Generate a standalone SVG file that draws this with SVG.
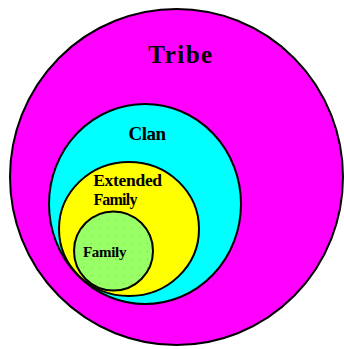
<svg xmlns="http://www.w3.org/2000/svg" width="344" height="349" viewBox="0 0 344 349">
<style>
.c{stroke:#000;stroke-width:2}
.t{font-family:"Liberation Serif","Times New Roman",serif;font-weight:bold;fill:#000;text-anchor:middle}
</style>
<defs>
<pattern id="dots" width="8" height="8" patternUnits="userSpaceOnUse">
<rect width="8" height="8" fill="#99ff66"/>
<rect x="3" y="3" width="1" height="1" fill="#66dd55"/>
</pattern>
</defs>
<rect width="344" height="349" fill="#fff"/>
<g id="tribe">
<ellipse class="c" cx="176.5" cy="177" rx="166.5" ry="168" fill="#ff00ff"/>
<text class="t" x="181" y="63" font-size="25" letter-spacing="1.5">Tribe</text>
</g>
<g id="clan">
<ellipse class="c" cx="145" cy="204" rx="96" ry="100" fill="#00ffff"/>
<text class="t" x="147" y="140" font-size="19" letter-spacing="-0.5">Clan</text>
</g>
<g id="extended">
<ellipse class="c" cx="129" cy="229" rx="70" ry="67" fill="#ffff00"/>
<text class="t" x="127.5" y="186" font-size="17.5" letter-spacing="-0.3">Extended</text>
<text class="t" x="115" y="205" font-size="16" letter-spacing="-0.8">Family</text>
</g>
<g id="family">
<circle class="c" cx="113.5" cy="251" r="39.5" fill="url(#dots)"/>
<text class="t" x="104.5" y="257" font-size="15" letter-spacing="-0.3">Family</text>
</g>
<g id="connectors"/>
</svg>
